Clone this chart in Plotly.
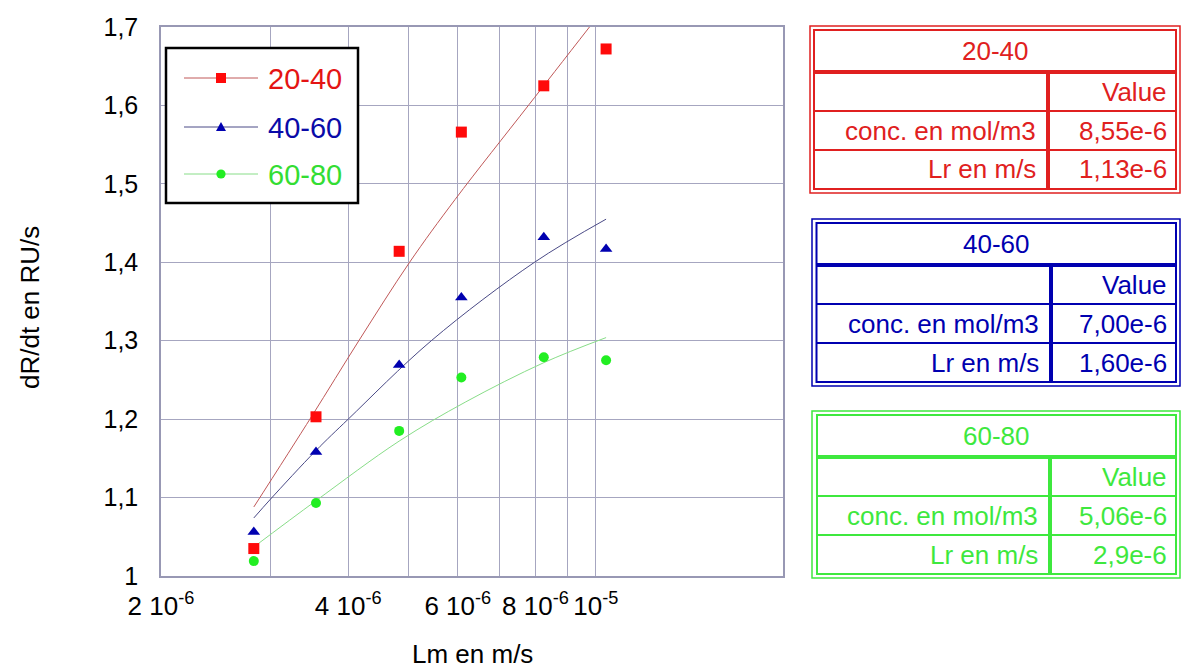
import math
import plotly.graph_objects as go

# Measured binding rate (RU/s) against the mass-transport coefficient Lm (m/s)
lm = [2.82e-6, 3.55e-6, 4.83e-6, 6.08e-6, 8.25e-6, 1.039e-5]
rate_20_40 = [1.035, 1.203, 1.414, 1.566, 1.625, 1.672]
rate_40_60 = [1.056, 1.158, 1.269, 1.355, 1.432, 1.417]
rate_60_80 = [1.019, 1.093, 1.185, 1.253, 1.279, 1.275]

# Fitted model curves for each range
fit_lm_20_40 = [2.82e-6, 3.49e-6, 4.16e-6, 5.02e-6, 5.94e-6, 7.81e-6, 9.77e-6]
fit_20_40 = [1.088, 1.203, 1.300, 1.400, 1.480, 1.601, 1.700]
fit_lm_40_60 = [2.82e-6, 3.0e-6, 3.55e-6, 4.0e-6, 5.44e-6, 7.97e-6, 1.039e-5]
fit_40_60 = [1.074, 1.098, 1.160, 1.200, 1.300, 1.400, 1.455]
fit_lm_60_80 = [2.82e-6, 3.55e-6, 4.83e-6, 6.18e-6, 8.25e-6, 1.039e-5]
fit_60_80 = [1.037, 1.096, 1.172, 1.222, 1.272, 1.304]

# Axis ticks
x_tick_vals = [2e-6, 4e-6, 6e-6, 8e-6, 1e-5]
x_tick_text = ["2 10<sup>-6</sup>", "4 10<sup>-6</sup>", "6 10<sup>-6</sup>",
               "8 10<sup>-6</sup>", "10<sup>-5</sup>"]
x_minor_vals = [3e-6, 5e-6, 7e-6, 9e-6]
y_tick_vals = [1.0, 1.1, 1.2, 1.3, 1.4, 1.5, 1.6, 1.7]
y_tick_text = ["1", "1,1", "1,2", "1,3", "1,4", "1,5", "1,6", "1,7"]

# Fit parameters shown in the side tables
range_names = ["20-40", "40-60", "60-80"]
row_labels = ["conc. en mol/m3", "Lr en m/s"]
value_header = "Value"
conc_values = ["8,55e-6", "7,00e-6", "5,06e-6"]
lr_values = ["1,13e-6", "1,60e-6", "2,9e-6"]

FONT = "Liberation Sans, Arial, sans-serif"
W, H = 1181, 668
L, R, T, B = 161, 783, 27, 576  # plot box in pixels


def X(p):
    return (p - L) / (R - L)


def Y(p):
    return (B - p) / (B - T)


styles = {
    "20-40": dict(mcol="#ff0a0a", sym="square", size=11, lcol="#c05858", tcol="#e41414"),
    "40-60": dict(mcol="#0000b0", sym="triangle-up", size=11, lcol="#4a4a86", tcol="#0a0aa8"),
    "60-80": dict(mcol="#22ee22", sym="circle", size=10, lcol="#88dd88", tcol="#33dd33"),
}
table_cols = {"20-40": "#e02020", "40-60": "#0000b0", "60-80": "#3ee83e"}

points = {"20-40": rate_20_40, "40-60": rate_40_60, "60-80": rate_60_80}
fits = {"20-40": (fit_lm_20_40, fit_20_40),
        "40-60": (fit_lm_40_60, fit_40_60),
        "60-80": (fit_lm_60_80, fit_60_80)}

fig = go.Figure()

for name in range_names:
    st = styles[name]
    fx, fy = fits[name]
    fig.add_trace(go.Scatter(x=fx, y=fy, mode="lines", line=dict(color=st["lcol"], width=1, shape="spline"),
                             showlegend=False, hoverinfo="skip"))
for name in range_names:
    st = styles[name]
    fig.add_trace(go.Scatter(x=lm, y=points[name], mode="markers", name=name,
                             marker=dict(symbol=st["sym"], size=st["size"], color=st["mcol"],
                                         line=dict(width=0)),
                             showlegend=False))

shapes = []
annotations = []

# Legend box drawn inside the plot
shapes.append(dict(type="rect", xref="paper", yref="paper", x0=X(166), x1=X(358), y0=Y(203), y1=Y(48),
                   line=dict(color="black", width=2.5), fillcolor="white", layer="above"))
legend_y = [78, 127, 174]
for name, ly in zip(range_names, legend_y):
    st = styles[name]
    shapes.append(dict(type="line", xref="paper", yref="paper", x0=X(184), x1=X(258), y0=Y(ly), y1=Y(ly),
                       line=dict(color=st["lcol"], width=1), layer="above"))
    cx = 221
    if st["sym"] == "square":
        shapes.append(dict(type="rect", xref="paper", yref="paper", x0=X(cx - 5), x1=X(cx + 5),
                           y0=Y(ly + 5), y1=Y(ly - 5), line=dict(width=0), fillcolor=st["mcol"],
                           layer="above"))
    elif st["sym"] == "triangle-up":
        path = "M {},{} L {},{} L {},{} Z".format(X(cx - 5), Y(ly + 4), X(cx + 5), Y(ly + 4),
                                                  X(cx), Y(ly - 5))
        shapes.append(dict(type="path", xref="paper", yref="paper", path=path, line=dict(width=0),
                           fillcolor=st["mcol"], layer="above"))
    else:
        shapes.append(dict(type="circle", xref="paper", yref="paper", x0=X(cx - 4.6), x1=X(cx + 4.6),
                           y0=Y(ly + 4.6), y1=Y(ly - 4.6), line=dict(width=0), fillcolor=st["mcol"],
                           layer="above"))
    annotations.append(dict(text=name, xref="paper", yref="paper", x=X(266), y=Y(ly + 1), xanchor="left",
                            yanchor="middle", showarrow=False, font=dict(family=FONT, size=29, color=st["tcol"])))

# Parameter tables on the right
table_geo = [
    dict(outer_left=810, inner_left=814, inner_top=30, divider=1048),
    dict(outer_left=812, inner_left=816.5, inner_top=223, divider=1051),
    dict(outer_left=812, inner_left=817, inner_top=415, divider=1050),
]
inner_right, outer_right = 1176, 1180
head_h, row_h = 42, 39
for name, geo, cv, lv in zip(range_names, table_geo, conc_values, lr_values):
    col = table_cols[name]
    it = geo["inner_top"]
    ib = it + head_h + 3 * row_h
    il = geo["inner_left"]
    ol = geo["outer_left"]

    def line(x0, y0, x1, y1, w):
        shapes.append(dict(type="line", xref="paper", yref="paper", x0=X(x0), x1=X(x1), y0=Y(y0), y1=Y(y1),
                           line=dict(color=col, width=w)))

    shapes.append(dict(type="rect", xref="paper", yref="paper", x0=X(ol), x1=X(outer_right),
                       y0=Y(ib + 4), y1=Y(it - 4), line=dict(color=col, width=1.5)))
    shapes.append(dict(type="rect", xref="paper", yref="paper", x0=X(il), x1=X(inner_right),
                       y0=Y(ib), y1=Y(it), line=dict(color=col, width=2)))
    hb = it + head_h
    line(il, hb, inner_right, hb, 4)
    line(il, hb + row_h, inner_right, hb + row_h, 2)
    line(il, hb + 2 * row_h, inner_right, hb + 2 * row_h, 2)
    line(geo["divider"], hb, geo["divider"], ib, 4)

    f = dict(family=FONT, size=26, color=col)
    annotations.append(dict(text=name, xref="paper", yref="paper", x=X((il + inner_right) / 2),
                            y=Y(it + head_h / 2), xanchor="center", yanchor="middle", showarrow=False, font=f))
    annotations.append(dict(text=value_header, xref="paper", yref="paper", x=X(1169), y=Y(hb + row_h / 2),
                            xanchor="right", yanchor="middle", showarrow=False, font=f))
    for k, (lab, val) in enumerate(zip(row_labels, [cv, lv])):
        yc = hb + row_h * (k + 1) + row_h / 2
        annotations.append(dict(text=lab, xref="paper", yref="paper", x=X(geo["divider"] - 10), y=Y(yc),
                                xanchor="right", yanchor="middle", showarrow=False, font=f))
        annotations.append(dict(text=val, xref="paper", yref="paper", x=X(1169), y=Y(yc),
                                xanchor="right", yanchor="middle", showarrow=False, font=f))

# Axis titles
annotations.append(dict(text="Lm en m/s", xref="paper", yref="paper", x=X(472), y=Y(654),
                        xanchor="center", yanchor="middle", showarrow=False,
                        font=dict(family=FONT, size=26, color="black")))
annotations.append(dict(text="dR/dt en RU/s", xref="paper", yref="paper", x=X(30), y=Y(308),
                        xanchor="center", yanchor="middle", showarrow=False, textangle=-90,
                        font=dict(family=FONT, size=26, color="black")))

frame = "#9898b4"
grid = "#a6a6c0"
fig.update_layout(
    width=W, height=H,
    margin=dict(l=L, r=W - R, t=T, b=H - B, pad=0),
    paper_bgcolor="white", plot_bgcolor="white",
    font=dict(family=FONT, color="black"),
    xaxis=dict(type="log", range=[math.log10(2e-6), math.log10(2e-5)],
               tickmode="array", tickvals=x_tick_vals, ticktext=x_tick_text,
               tickfont=dict(family=FONT, size=26, color="black"),
               showgrid=True, gridcolor=grid, gridwidth=1,
               minor=dict(tickmode="array", tickvals=x_minor_vals, showgrid=True, gridcolor=grid,
                          gridwidth=1, ticks=""),
               showline=True, linecolor=frame, linewidth=1.5, mirror=True,
               ticks="", zeroline=False, ticklabelstandoff=6),
    yaxis=dict(range=[1.0, 1.7], tickmode="array", tickvals=y_tick_vals, ticktext=y_tick_text,
               tickfont=dict(family=FONT, size=25, color="black"),
               showgrid=True, gridcolor=grid, gridwidth=1,
               showline=True, linecolor=frame, linewidth=1.5, mirror=True,
               ticks="", zeroline=False, ticklabelstandoff=16),
    shapes=shapes,
    annotations=annotations,
    showlegend=False,
)

fig.write_html("out.html")
